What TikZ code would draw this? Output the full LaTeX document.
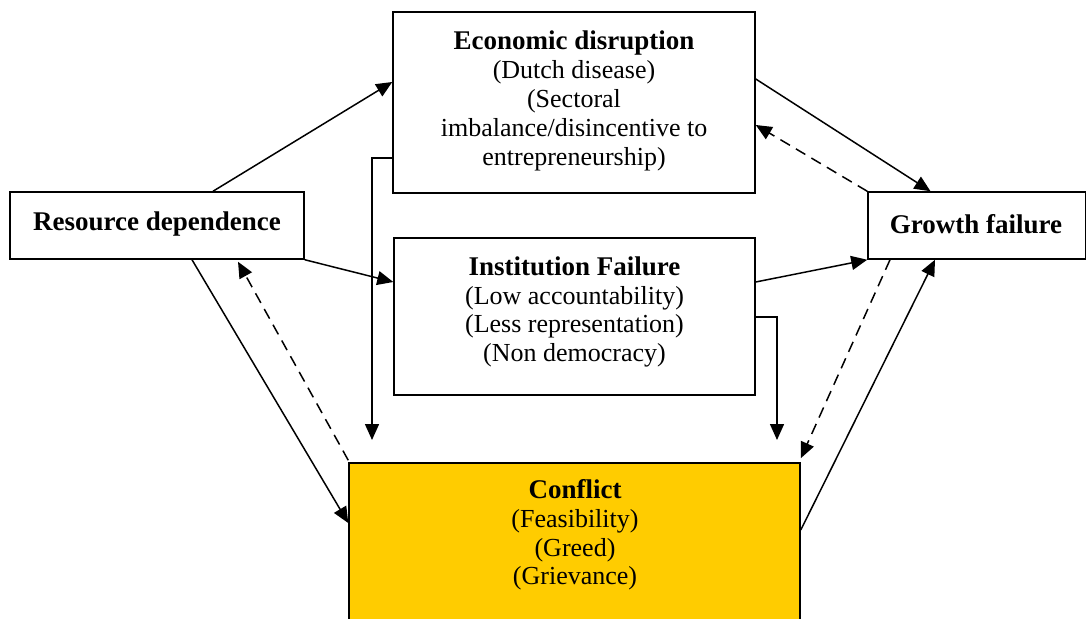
\documentclass[tikz,border=0pt]{standalone}
\usepackage{fontspec}
\setmainfont{Liberation Serif}
\usetikzlibrary{arrows.meta,calc}
\definecolor{conflictgold}{HTML}{FFCC00}
\tikzset{
  box/.style={draw=black, line width=1.5pt, fill=white, inner sep=0pt, anchor=center},
  txt/.style={align=center, inner sep=0pt, font=\fontsize{26}{28.8}\selectfont},
  tip/.style={-{Triangle[length=16pt,width=14pt]}},
  conn/.style={line width=1.5pt, tip},
  dconn/.style={conn, dash pattern=on 11pt off 7pt}
}
\newcommand{\hdr}[1]{{\fontsize{27}{28.8}\selectfont\bfseries #1}}
\begin{document}
\begin{tikzpicture}[x=1pt,y=-1pt]
\useasboundingbox (0,0) rectangle (1086,618);
\clip (0,0) rectangle (1086,618);
\fill[white] (0,0) rectangle (1086,618);
% boxes
\node[box, minimum width=294pt, minimum height=67pt] (rd) at (157,225.5) {};
\node[box, minimum width=362pt, minimum height=181pt] (ed) at (574,102.5) {};
\node[box, minimum width=361pt, minimum height=157pt] (if) at (574.5,316.5) {};
\node[box, minimum width=218pt, minimum height=67pt] (gf) at (977,225.5) {};
\node[box, fill=conflictgold, minimum width=451pt, minimum height=170pt] (cf) at (574.5,548) {};
% texts
\node[txt] (rdt) at (157,224) {\hdr{Resource dependence}};
\node[txt] (gft) at (976,224) {\hdr{Growth failure}};
\node[txt] (edt) at (574,101) {\hdr{Economic disruption}\\(Dutch disease)\\(Sectoral\\imbalance/disincentive to\\entrepreneurship)};
\node[txt] (ift) at (574.5,312) {\hdr{Institution Failure}\\(Low accountability)\\(Less representation)\\(Non democracy)};
\node[txt] (cft) at (575,535) {\hdr{Conflict}\\(Feasibility)\\(Greed)\\(Grievance)};
% free ends
\coordinate (edend) at (372,440);
\coordinate (ifend) at (777,440);
% connectors
\draw[conn] ([xshift=56pt]rd.north) -- ([yshift=20.5pt]ed.west);
\draw[conn] (rd.south east) -- ([yshift=34.5pt]if.west);
\draw[conn] ([xshift=35pt]rd.south) -- ([yshift=25pt]cf.west);
\draw[dconn] ([yshift=2pt]cf.north west) -- ([xshift=81pt,yshift=-2pt]rd.south);
\draw[conn] ([yshift=-55.5pt]ed.west) -| (edend);
\draw[conn] ([yshift=23.5pt]ed.east) -- ([xshift=-46.5pt]gf.north);
\draw[dconn] (gf.north west) -- ([yshift=-22.5pt]ed.east);
\draw[conn] ([yshift=34.5pt]if.east) -- (gf.south west);
\draw[conn] ([yshift=-0.5pt]if.east) -| (ifend);
\draw[dconn] ([xshift=-87pt]gf.south) -- ([yshift=4pt]cf.north east);
\draw[conn] ([yshift=18pt]cf.east) -- ([xshift=-42pt]gf.south);
\end{tikzpicture}
\end{document}
